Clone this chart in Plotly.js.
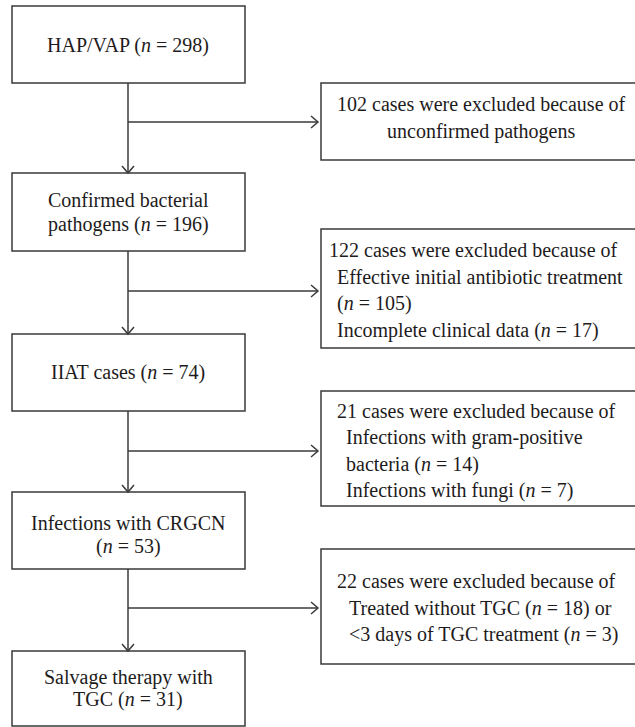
<!DOCTYPE html>
<html>
<head>
<meta charset="utf-8">
<script src="https://cdn.plot.ly/plotly-3.0.1.min.js"></script>
<style>html,body{margin:0;padding:0;background:#fff;}</style>
</head>
<body>
<div id="chart" style="width:635px;height:727px;"></div>
<script>
// ---- Data ----
const mainSteps = ["HAP/VAP", "Confirmed bacterial pathogens", "IIAT cases", "Infections with CRGCN", "Salvage therapy with TGC"];
const mainCounts = [298, 196, 74, 53, 31];
const excludedTotals = [102, 122, 21, 22];
const excludedReasons = [
  ["unconfirmed pathogens"],
  ["Effective initial antibiotic treatment", "Incomplete clinical data"],
  ["Infections with gram-positive bacteria", "Infections with fungi"],
  ["Treated without TGC", "<3 days of TGC treatment"]
];
const excludedCounts = [[null], [105, 17], [14, 7], [18, 3]];

// ---- Layout (pixel geometry) ----
const W = 635, H = 727;
const FONT = "Liberation Serif";
const FS = 20;
const TXT = "#1e1b1c";
const LINE = "#3a3a3a";
const LW = 1.5;
const leftX = [12, 245], cx = 128;
const leftY = [[6, 83], [173, 251], [334, 411], [492, 569], [651, 726]];
const rightX = [321, 645];
const rightY = [[83, 160], [229, 348], [391, 506], [549, 664]];
const branchY = [122, 291, 451, 608];

const nTxt = v => "(<i>n</i> = " + v + ")";
const esc = s => s.replace(/</g, "&lt;");

// line breaking for main boxes: words before break (null = single line)
const mainBreak = [null, 2, null, 3, 3];
const mainLineY = [[45], [200, 224], [372], [523, 546], [677, 699]];

function mainLines(i) {
  const words = mainSteps[i].split(" ");
  const full = mainSteps[i] + " " + nTxt(mainCounts[i]);
  if (mainBreak[i] === null) return [full];
  const a = words.slice(0, mainBreak[i]).join(" ");
  const b = words.slice(mainBreak[i]).join(" ");
  return [a, (b ? b + " " : "") + nTxt(mainCounts[i])];
}

function exclLines(i) {
  const head = excludedTotals[i] + " cases were excluded because of";
  const r = excludedReasons[i], c = excludedCounts[i];
  if (i === 0) return [head, r[0]];
  if (i === 1) return [head, r[0], nTxt(c[0]), r[1] + " " + nTxt(c[1])];
  if (i === 2) {
    const w = r[0].split(" ");
    return [head, w.slice(0, 3).join(" "), w.slice(3).join(" ") + " " + nTxt(c[0]), r[1] + " " + nTxt(c[1])];
  }
  return [head, esc(r[0]) + " " + nTxt(c[0]) + " or", esc(r[1]) + " " + nTxt(c[1])];
}
// per-box text placement: [x, anchor] per line
const exclLineY = [[104, 131], [250, 277, 303, 330], [411, 437, 464, 490], [581, 608, 634]];
const exclLineX = [
  [[481, "center"], [481, "center"]],
  [[327, "left"], [335, "left"], [335, "left"], [335, "left"]],
  [[335, "left"], [344, "left"], [344, "left"], [344, "left"]],
  [[476, "center"], [480, "center"], [483, "center"]]
];

const shapes = [];
const annotations = [];

function rect(x0, x1, y0, y1) {
  shapes.push({type: "rect", xref: "x", yref: "y", x0: x0, x1: x1, y0: y0, y1: y1,
    line: {color: LINE, width: LW}, fillcolor: "rgba(0,0,0,0)"});
}
function path(d) {
  shapes.push({type: "path", xref: "x", yref: "y", path: d, line: {color: LINE, width: LW}});
}
function text(t, x, y, anchor) {
  annotations.push({text: t, x: x, y: y, xref: "x", yref: "y", xanchor: anchor, yanchor: "middle",
    showarrow: false, font: {family: FONT, size: FS, color: TXT}});
}

mainSteps.forEach((s, i) => {
  rect(leftX[0], leftX[1], leftY[i][0], leftY[i][1]);
  mainLines(i).forEach((l, k) => text(l, cx, mainLineY[i][k], "center"));
});

excludedTotals.forEach((t, i) => {
  rect(rightX[0], rightX[1], rightY[i][0], rightY[i][1]);
  exclLines(i).forEach((l, k) => text(l, exclLineX[i][k][0], exclLineY[i][k], exclLineX[i][k][1]));
  // vertical connector down to next box
  const y0 = leftY[i][1], y1 = leftY[i + 1][0];
  path(`M ${cx} ${y0} L ${cx} ${y1}`);
  path(`M ${cx - 6} ${y1 - 7} L ${cx} ${y1} L ${cx + 6} ${y1 - 7}`);
  // branch to exclusion box
  const by = branchY[i], tip = rightX[0] - 3;
  path(`M ${cx} ${by} L ${tip} ${by}`);
  path(`M ${tip - 7} ${by - 6} L ${tip} ${by} L ${tip - 7} ${by + 6}`);
});

const layout = {
  width: W, height: H,
  margin: {l: 0, r: 0, t: 0, b: 0},
  paper_bgcolor: "#fff", plot_bgcolor: "#fff",
  xaxis: {range: [0, W], visible: false, fixedrange: true},
  yaxis: {range: [H, 0], visible: false, fixedrange: true},
  showlegend: false,
  shapes: shapes,
  annotations: annotations
};

Plotly.newPlot("chart", [], layout, {displayModeBar: false, staticPlot: true});
</script>
</body>
</html>
